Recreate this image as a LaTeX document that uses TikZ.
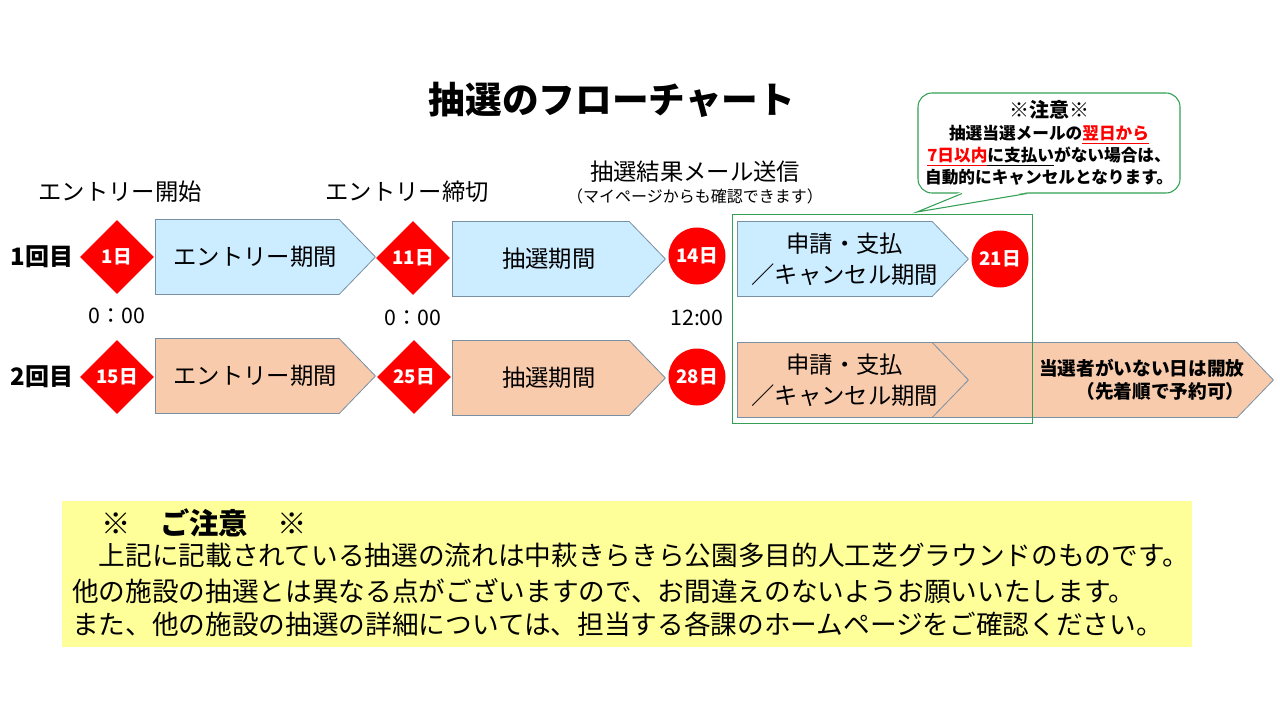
\documentclass[tikz,border=0pt]{standalone}
\usepackage{fontspec}
\setmainfont{Noto Sans CJK JP}
\usetikzlibrary{shapes.geometric, shapes.symbols, positioning}
\definecolor{DayRed}{HTML}{FF0000}
\definecolor{PeriodBlue}{HTML}{CCECFF}
\definecolor{PeriodPeach}{HTML}{F8CBAD}
\definecolor{PeriodEdge}{HTML}{7890A4}
\definecolor{NoteGreen}{HTML}{33A055}
\definecolor{NoteYellow}{HTML}{FFFF99}
\newlength{\pxu}
\setlength{\pxu}{0.75pt}

\begin{document}
\begin{tikzpicture}[
    x=\pxu, y=-\pxu,
    period/.style={
      signal, signal to=east, signal pointer angle=92,
      draw=PeriodEdge, line width=0.6pt,
      minimum height=75\pxu, inner sep=0pt,
      anchor=west,
    },
    periodtext/.style={
      align=center, inner sep=0pt,
      font=\fontsize{17.5}{23}\selectfont,
    },
    deadline/.style={
      diamond, fill=DayRed, text=white,
      minimum width=74\pxu, minimum height=74\pxu, inner sep=0pt,
      font=\bfseries\fontsize{14}{16}\selectfont,
    },
    result/.style={
      circle, fill=DayRed, text=white,
      minimum size=57\pxu, inner sep=0pt,
      font=\bfseries\fontsize{14}{16}\selectfont,
    },
    heading/.style={font=\fontsize{17.5}{20}\selectfont},
    rowlabel/.style={font=\bfseries\fontsize{18}{20}\selectfont},
    clock/.style={font=\fontsize{16}{18}\selectfont},
    noteline/.style={anchor=west, inner sep=0pt, font=\fontsize{20}{24}\selectfont},
  ]
    \useasboundingbox (0,0) rectangle (1280,720);

    \node[font=\bfseries\fontsize{27.5}{30}\selectfont] (title) at (612,100) {抽選のフローチャート};

    % column headings
    \node[heading] (hstart) at (120,192) {エントリー開始};
    \node[heading] (hclose) at (407,192) {エントリー締切};
    \node[heading] (hmail) at (695,172) {抽選結果メール送信};
    \node[font=\fontsize{12}{14}\selectfont] (hmailsub) at (695,196) {（マイページからも確認できます）};

    % first round
    \node[rowlabel] (r1) at (42,257) {1回目};
    \node[period, fill=PeriodBlue, minimum width=220\pxu,
      label={[periodtext, xshift=8\pxu]center:エントリー期間}] (e1) at (155,257) {};
    \node[deadline] (d1) at (117,257) {1日};
    \node[period, fill=PeriodBlue, minimum width=213\pxu,
      label={[periodtext, xshift=8\pxu]center:抽選期間}] (a1) at (452,259) {};
    \node[deadline] (d2) at (413,258) {11日};
    \node[result] (k1) at (697,256) {14日};
    \node[period, fill=PeriodBlue, minimum width=231\pxu,
      label={[periodtext, xshift=10\pxu]center:申請・支払\\／キャンセル期間}] (s1) at (737,259) {};
    \node[result] (k2) at (1000,259) {21日};

    \node[clock] (t1) at (117,316) {0：00};
    \node[clock] (t2) at (413,318) {0：00};
    \node[clock] (t3) at (697,318) {12:00};

    % second round
    \node[rowlabel] (r2) at (42,377) {2回目};
    \node[period, fill=PeriodPeach, minimum width=220\pxu,
      label={[periodtext, xshift=8\pxu]center:エントリー期間}] (e2) at (155,376) {};
    \node[deadline] (d3) at (117,377) {15日};
    \node[period, fill=PeriodPeach, minimum width=213\pxu,
      label={[periodtext, xshift=8\pxu]center:抽選期間}] (a2) at (452,378) {};
    \node[deadline] (d4) at (414,377) {25日};
    \node[result] (k3) at (697,377) {28日};
    \node[period, fill=PeriodPeach, minimum width=343\pxu,
      label={[periodtext, align=left, xshift=58\pxu, font=\bfseries\fontsize{14}{17}\selectfont]center:%
        当選者がいない日は開放\\　　（先着順で予約可）}] (o2) at (930,380) {};
    \node[period, fill=PeriodPeach, minimum width=231\pxu,
      label={[periodtext, xshift=10\pxu]center:申請・支払\\／キャンセル期間}] (s2) at (737,380) {};

    \node[draw=NoteGreen, line width=0.8pt, minimum width=300\pxu, minimum height=209\pxu,
      anchor=north west, inner sep=0pt] (frame) at (732,214) {};

    % callout
    \node[draw=NoteGreen, fill=white, line width=0.8pt, rounded corners=14\pxu,
      minimum width=262\pxu, minimum height=100\pxu, inner sep=0pt, align=center,
      font=\bfseries\fontsize{12.5}{16.5}\selectfont] (callout) at (1049,143)
      {{\fontsize{15}{18}\selectfont ※注意※}\\
       抽選当選メールの{\color{DayRed}\underline{翌日から}}\\
       {\color{DayRed}\underline{7日以内}}\underline{に支払い}がない場合は、\\
       自動的にキャンセルとなります。};
    \coordinate (tip) at (917,212);
    \fill[white] ([xshift=-88\pxu,yshift=1.5\pxu]callout.south) -- (tip)
      -- ([xshift=-21\pxu,yshift=1.5\pxu]callout.south) -- cycle;
    \draw[NoteGreen, line width=0.8pt] ([xshift=-87\pxu]callout.south) -- (tip)
      -- ([xshift=-22\pxu]callout.south);

    % notice
    \node[fill=NoteYellow, minimum width=1130\pxu, minimum height=146\pxu,
      anchor=north west, inner sep=0pt] (notice) at (62,501) {};
    \node[noteline, font=\bfseries\fontsize{22}{24}\selectfont] (n0) at (72,523) {　※　ご注意　※};
    \node[noteline] (n1) at (72,555) {　上記に記載されている抽選の流れは中萩きらきら公園多目的人工芝グラウンドのものです。};
    \node[noteline] (n2) at (72,591) {他の施設の抽選とは異なる点がございますので、お間違えのないようお願いいたします。};
    \node[noteline] (n3) at (72,624) {また、他の施設の抽選の詳細については、担当する各課のホームページをご確認ください。};
  \end{tikzpicture}
\end{document}
